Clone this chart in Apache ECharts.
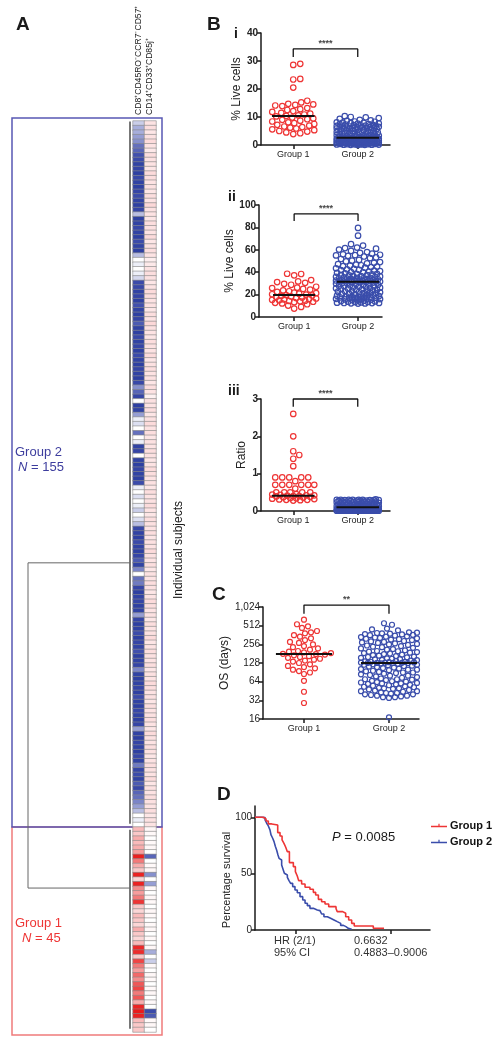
<!DOCTYPE html>
<html><head><meta charset="utf-8">
<script src="https://cdn.jsdelivr.net/npm/echarts@6/dist/echarts.min.js"></script>
<style>html,body{margin:0;padding:0;background:#fff}#c{width:499px;height:1050px}</style>
</head><body><div id="c"></div>
<script>
// ---------------- DATA ----------------
const groupNames = ['Group 1', 'Group 2'];
const heatColumns = ['CD8\u207ACD45RO\u207BCCR7\u207BCD57\u207A', 'CD14\u207ACD33\u207ACD85j\u207A'];

// heat map, column 1 (Group 2 subjects first, then Group 1)
const heatG2Col1 = [
-0.15,-0.25,-0.25,-0.3,-0.35,-0.5,-0.55,-0.65,-0.7,-0.85,
-0.8,-0.9,-0.75,-0.85,-0.9,-0.8,-0.7,-0.85,-0.9,-0.8,
-0.2,-0.9,-0.85,-0.75,-0.85,-0.9,-0.7,-0.85,-0.9,-0.2,
0,-0.05,0,-0.05,-0.12,-0.7,-0.75,-0.85,-0.8,-0.9,
-0.65,-0.85,-0.9,-0.8,-0.6,-0.85,-0.9,-0.75,-0.85,-0.8,
-0.9,-0.7,-0.85,-0.9,-0.8,-0.85,-0.9,-0.75,-0.35,-0.55,
-0.8,0,-0.9,-0.85,-0.3,-0.05,-0.1,0,-0.5,0,
-0.05,-0.85,-0.8,0,-0.85,-0.9,-0.8,-0.85,-0.9,-0.7,
-0.05,0,-0.1,0,-0.05,-0.15,0,-0.1,-0.2,-0.75,
-0.85,-0.9,-0.7,-0.85,-0.9,-0.8,-0.6,-0.85,-0.4,0,
-0.5,-0.45,-0.8,-0.9,-0.85,-0.8,-0.9,-0.85,-0.3,-0.8,
-0.9,-0.85,-0.7,-0.9,-0.8,-0.85,-0.65,-0.9,-0.85,-0.8,
-0.4,-0.85,-0.9,-0.85,-0.8,-0.9,-0.7,-0.85,-0.9,-0.75,
-0.85,-0.9,-0.8,-0.3,-0.85,-0.9,-0.8,-0.85,-0.9,-0.75,
-0.85,-0.45,-0.8,-0.7,-0.85,-0.6,-0.75,-0.55,-0.5,-0.4,
-0.3,-0.2,0,-0.05,0];
const heatG1Col1 = [
0.25,0.2,0.3,0.25,0.3,0.35,0.9,0.45,0.3,0.2,
0.85,0.15,0.85,0.4,0.35,0.45,0.65,0.2,0.15,0.25,
0.2,0.15,0.3,0.2,0.15,0.25,0.75,0.7,0.2,0.6,
0.45,0.35,0.5,0.4,0.55,0.6,0.45,0.55,0.3,0.8,
0.95,0.85,0.25,0.2,0.2];
const heatG2Col2 = [
0.10,0.12,0.09,0.11,0.13,0.10,0.08,0.12,0.11,0.10,
0.09,0.13,0.12,0.10,0.11,0.09,0.12,0.10,0.14,0.11,
0.10,0.09,0.12,0.11,0.10,0.13,0.09,0.11,0.12,0.10,
0.06,0.08,0.10,0.12,0.11,0.09,0.10,0.13,0.12,0.10,
0.11,0.09,0.12,0.10,0.14,0.11,0.10,0.09,0.12,0.11,
0.10,0.13,0.09,0.11,0.12,0.10,0.11,0.09,0.12,0.10,
0.05,0.11,0.10,0.12,0.09,0.11,0.13,0.10,0.12,0.09,
0.11,0.10,0.12,0.11,0.09,0.10,0.13,0.12,0.10,0.11,
0.09,0.12,0.10,0.11,0.13,0.10,0.09,0.12,0.11,0.10,
0.12,0.09,0.11,0.10,0.13,0.11,0.10,0.12,0.09,0.11,
0.10,0.12,0.11,0.09,0.10,0.13,0.12,0.10,0.11,0.09,
0.12,0.10,0.11,0.13,0.09,0.10,0.12,0.11,0.10,0.12,
0.09,0.11,0.10,0.13,0.12,0.10,0.11,0.09,0.12,0.10,
0.11,0.12,0.10,0.09,0.13,0.11,0.10,0.12,0.11,0.09,
0.10,0.12,0.11,0.10,0.13,0.09,0.11,0.10,0.12,0.11,
0.10,0.12,0.09,0.11,0.10];
const heatG1Col2 = [
0.03,0.02,0,0.02,0.03,0,-0.55,0,0.02,0.03,
-0.35,0,-0.3,0.02,0,0.03,0.02,0,0.03,0.02,
0,0.02,0.03,0,0.02,0,0.03,-0.25,0,-0.15,
0.02,0,0.03,0.02,0,0.02,0.03,0,0.02,0,
-0.7,-0.6,0.02,0.03,0];

// dendrogram (rows in subject index units)
const clusterSpans = [[0.1, 154.3], [155.6, 199.3]];
const clusterJoinRows = [97, 168.4];
const mergeHeight = 1;

// B i : % live cells
const biG1 = [29.0,28.6,23.6,23.4,20.5,15.8,15.2,14.7,14.5,14.3,14.1,13.9,13.2,12.8,12.5,12.1,11.8,11.5,11.2,10.9,10.6,10.4,10.2,9.8,9.5,9.2,9.0,8.7,8.4,8.1,7.8,7.5,7.2,6.9,6.6,6.4,6.2,5.9,5.6,5.3,5.0,4.8,4.5,4.2,3.9];
const biG2 = [10.3,10.0,9.9,9.6,9.3,9.0,8.8,
8.6,8.4,8.3,8.1,8.0,7.9,7.8,7.7,7.6,7.5,7.4,7.3,7.2,7.1,7.0,6.9,6.8,6.8,6.7,6.6,6.5,6.5,6.4,6.3,6.3,6.2,6.1,6.1,6.0,6.0,
5.9,5.8,5.7,5.6,5.5,5.4,5.3,5.2,5.1,5.0,4.9,4.8,4.7,4.6,4.5,4.4,4.3,4.2,4.1,4.0,3.9,3.8,3.7,3.6,3.5,3.4,3.3,3.25,3.2,3.1,3.05,3.0,2.95,2.9,2.85,2.8,2.75,2.7,2.65,2.6,
2.55,2.5,2.5,2.45,2.4,2.4,2.35,2.3,2.3,2.25,2.2,2.2,2.15,2.1,2.1,2.05,2.0,2.0,1.95,1.9,
1.9,1.85,1.8,1.8,1.75,1.7,1.7,1.65,1.6,1.6,1.55,1.5,1.5,1.45,1.4,1.4,1.35,1.3,1.3,1.25,
1.2,1.2,1.15,1.1,1.1,1.05,1.0,1.0,0.95,0.9,0.9,0.85,0.8,0.8,0.75,0.7,0.7,0.65,0.6,0.6,
0.55,0.5,0.5,0.45,0.4,0.4,0.35,0.3,0.3,0.25,0.2,0.2,0.15,0.1,0.1,0.05,0.05,0.0];
const biCenters = [10.4, 2.6];

// B ii : % live cells
const biiG1 = [38.6,38.4,37.2,33.0,31.8,31.2,30.5,29.6,28.8,27.0,26.2,25.8,25.1,24.4,23.7,23.0,22.4,21.8,21.3,20.8,20.3,19.9,19.6,19.2,18.8,18.3,17.8,17.3,16.9,16.5,16.1,15.7,15.3,14.9,14.6,14.3,14.0,13.6,13.2,12.7,12.1,11.4,10.2,9.0,7.5];
const biiG2 = [79.5,72.6,65.0,63.8,62.0,61.5,61.0,60.2,59.0,58.0,
57.2,56.5,56.0,55.6,55.2,55.0,54.6,54.0,
53.2,52.5,51.8,51.0,50.3,49.6,49.0,48.4,47.8,47.2,46.7,46.2,45.8,45.4,45.0,44.6,
44.0,43.5,43.0,42.6,42.2,41.8,41.4,41.0,40.6,40.2,39.8,39.4,39.0,38.6,38.3,38.0,37.7,37.4,37.1,36.8,
36.5,36.2,35.9,35.6,35.3,35.0,34.8,34.6,34.4,34.2,34.0,33.8,33.6,33.4,33.2,33.0,32.8,32.6,32.4,32.3,32.2,32.1,32.05,32.0,
31.8,31.6,31.4,31.2,31.0,30.7,30.4,30.1,29.8,29.5,29.2,28.9,28.6,28.3,28.0,27.7,27.4,27.1,26.8,26.5,
26.2,25.9,25.6,25.3,25.0,24.7,24.4,24.1,23.8,23.5,23.2,22.9,22.6,22.3,22.0,21.7,21.4,21.1,20.8,20.5,
20.2,19.9,19.6,19.3,19.0,18.7,18.4,18.1,17.8,17.5,17.2,16.9,16.6,16.3,16.0,15.7,15.4,15.1,14.8,14.5,
14.2,13.9,13.6,13.3,13.0,12.8,12.6,12.4,12.2,12.0,18.0,17.6,17.0,16.2,13.4,12.5,12.1];
const biiCenters = [19.6, 31.5];

// B iii : ratio
const biiiG1 = [2.6,2.0,1.6,1.5,1.4,1.2,0.9,0.9,0.9,0.9,0.9,0.8,0.7,0.7,0.7,0.7,0.7,0.7,0.6,0.5,0.5,0.5,0.5,0.5,
0.45,0.44,0.43,0.42,0.42,0.41,0.40,0.40,0.39,0.38,0.37,0.36,0.35,0.34,0.33,0.32,0.31,0.30,0.30,0.29,0.28];
const biiiG2 = [0.31,0.30,0.30,0.30,0.30,0.30,0.30,0.29,0.29,0.29,
0.29,0.28,0.28,0.28,0.27,0.27,0.26,0.26,0.25,0.25,
0.25,0.24,0.24,0.23,0.23,0.22,0.22,0.22,0.21,0.21,
0.20,0.20,0.20,0.19,0.19,0.18,0.18,0.18,0.17,0.17,
0.16,0.16,0.15,0.15,0.15,0.14,0.14,0.13,0.13,0.13,
0.12,0.12,0.12,0.11,0.11,0.11,0.10,0.10,0.10,0.10,
0.10,0.09,0.09,0.09,0.09,0.09,0.08,0.08,0.08,0.08,
0.08,0.08,0.07,0.07,0.07,0.07,0.07,0.07,0.07,0.06,
0.06,0.06,0.06,0.06,0.06,0.06,0.06,0.05,0.05,0.05,
0.05,0.05,0.05,0.05,0.05,0.05,0.04,0.04,0.04,0.04,
0.04,0.04,0.04,0.04,0.04,0.04,0.04,0.03,0.03,0.03,
0.03,0.03,0.03,0.03,0.03,0.03,0.03,0.03,0.03,0.02,
0.02,0.02,0.02,0.02,0.02,0.02,0.02,0.02,0.02,0.02,
0.02,0.02,0.01,0.01,0.01,0.01,0.01,0.01,0.01,0.01,
0.01,0.01,0.01,0.01,0.01,0.01,0.01,0.01,0.01,0.01,
0.01,0.01,0.01,0.01,0.01];
const biiiCenters = [0.41, 0.1];

// C : OS (days)
const cG1 = [640,540,500,470,420,400,385,360,340,320,300,280,270,255,240,230,220,210,200,195,190,185,180,178,175,170,165,160,155,150,145,140,135,128,122,115,110,105,100,95,90,85,66,44,29];
const cG2 = [560,530,460,445,430,400,395,390,385,380,375,370,365,360,355,
345,340,335,330,325,320,315,310,305,300,290,285,280,275,270,265,260,255,250,245,
240,235,230,225,220,215,210,205,200,198,195,192,188,185,182,178,175,172,168,165,
162,160,158,155,152,150,148,146,144,142,140,138,136,134,133,132,131,130,129.5,129,128.8,128.5,128.2,
128,126,124,122,120,118,116,114,112,110,108,106,104,102,100,98,96,94,92,90,
88,86,84,82,80,78,76,74,72,70,69,68,66,65,64,63,62,61,60,59,
58,57,56,55,54,53,52,51,50,49,48,47,46,45,44,43,42,41,40,39,
38,37,36,35,45,42,40,38,36,17,100,90,80,70,60,50,120];
const cCenters = [179, 128];

// significance brackets (panel order: i, ii, iii, C)
const bracketTop = [34.3, 92, 3.0, 1100];
const bracketDrop = [31.4, 85.7, 2.79, 795];
const bracketText = ['****', '****', '****', '**'];

// D : Kaplan-Meier
const kmDaysG1 = [0,61,81,98,123,167,184,199,213,226,238,253,282,297,311,321,343,368,404,429,446,466,490,515,542,596,605,645,667,689,711,730,870,949];
const kmSurvG1 = [100,98.5,96.7,94.1,93.2,86.4,83.4,79.9,76.9,73.4,69.5,59.8,56.2,51.8,47.9,43.8,40.8,37.9,36.1,33.4,31.1,27.2,25.1,23.1,20.7,18.9,16.3,14.8,11.8,8.9,5.9,3.6,1.5,1.5];
const kmDaysG2 = [0,49,74,86,98,110,118,130,140,150,159,169,177,184,196,208,216,226,238,250,262,277,294,311,331,351,368,385,404,429,458,478,490,507,532,556,581,605,630,650,669,686,711];
const kmSurvG2 = [100,99.7,97.6,94.7,92.3,88.8,84.3,81.4,78.4,74.0,71.0,66.6,63.6,62.1,57.7,53.3,50.3,48.8,46.7,43.8,41.4,38.5,35.5,33.1,29.6,26.6,23.7,21.6,19.2,17.8,17.2,16.3,14.2,11.8,10.4,8.9,7.4,5.9,4.1,3.0,1.5,0.6,0.6];
const kmTicks = [300, 1000];
const hrRows = [['HR (2/1)', '0.6632'], ['95% CI', '0.4883\u20130.9006']];
const pText = '0.0085';

// ---------------- CHART ----------------
const FF = "'Liberation Sans', Arial, Helvetica, sans-serif";
const RED = '#ee3535', BLUE = '#3a4dab', AX = '#1a1a1a';
const chart = echarts.init(document.getElementById('c'));

const col1 = heatG2Col1.concat(heatG1Col1);
const col2 = heatG2Col2.concat(heatG1Col2);
const heatData = [];
for (let i = 0; i < col1.length; i++) { heatData.push([0, i, col1[i]]); heatData.push([1, i, col2[i]]); }
const rowCats = col1.map((_, i) => String(i));

function yAx(gi, o) {
  return Object.assign({
    gridIndex: gi, type: 'value', min: o.min, max: o.max, interval: o.interval,
    axisLine: {show: true, lineStyle: {color: AX, width: 1.5}},
    axisTick: {show: true, length: 4, lineStyle: {color: AX, width: 1.5}},
    axisLabel: {fontSize: 10, color: '#222', margin: 3, fontFamily: FF, fontWeight: o.bold ? 'bold' : 'normal'},
    splitLine: {show: false},
    name: o.name, nameLocation: 'middle', nameGap: o.nameGap,
    nameTextStyle: {fontSize: 12, color: '#222', fontFamily: FF}
  }, o.extra || {});
}
function xGrp(gi, min, max) {
  return {gridIndex: gi, type: 'value', min: min, max: max,
    axisLine: {show: true, onZero: false, lineStyle: {color: AX, width: 1.5}},
    axisTick: {show: true, length: 4, customValues: [1, 2], lineStyle: {color: AX, width: 1.5}},
    axisLabel: {customValues: [1, 2], formatter: v => groupNames[Math.round(v) - 1], fontSize: 9, color: '#222', margin: 5, fontFamily: FF},
    splitLine: {show: false}};
}

const grids = [
  {left: 133, top: 121, width: 23, height: 911},
  {left: 28, top: 121, width: 102, height: 911},
  {left: 261, top: 33, width: 129, height: 112},
  {left: 259, top: 205, width: 123, height: 112},
  {left: 261, top: 399, width: 129, height: 112},
  {left: 263, top: 607, width: 156, height: 112},
  {left: 255, top: 806, width: 175, height: 124}
].map(g => Object.assign({outerBoundsMode: 'none', containLabel: false}, g));

const xAxes = [
  {gridIndex: 0, type: 'category', data: heatColumns, show: false},
  {gridIndex: 1, type: 'value', min: 0, max: 1, inverse: true, show: false},
  xGrp(2, 0.5, 2.5),
  xGrp(3, 0.45, 2.375),
  xGrp(4, 0.5, 2.5),
  xGrp(5, 0.518, 2.353),
  {gridIndex: 6, type: 'value', min: 0, max: 1287,
    axisLine: {show: true, onZero: false, lineStyle: {color: AX, width: 1.5}},
    axisTick: {show: true, length: 4, customValues: kmTicks, lineStyle: {color: AX, width: 1.5}},
    axisLabel: {show: false}, splitLine: {show: false}}
];
const yAxes = [
  {gridIndex: 0, type: 'category', data: rowCats, inverse: true, show: false},
  {gridIndex: 1, type: 'value', min: 0, max: 200, inverse: true, show: false},
  yAx(2, {min: 0, max: 40, interval: 10, name: '% Live cells', nameGap: 17, bold: true}),
  yAx(3, {min: 0, max: 100, interval: 20, name: '% Live cells', nameGap: 20, bold: true}),
  yAx(4, {min: 0, max: 3, interval: 1, name: 'Ratio', nameGap: 13, bold: true}),
  yAx(5, {name: 'OS (days)', nameGap: 27, extra: {type: 'log', logBase: 2, min: 16, max: 1024, interval: undefined,
    axisLabel: {fontSize: 10, color: '#222', margin: 3, fontFamily: FF, formatter: v => Number(v).toLocaleString('en-US')}}}),
  yAx(6, {min: 0, max: 110, extra: {
    axisTick: {show: true, length: 4, customValues: [0, 50, 100], lineStyle: {color: AX, width: 1.5}},
    axisLabel: {customValues: [0, 50, 100], fontSize: 10, color: '#222', margin: 3, fontFamily: FF}}})
];

const series = [];
series.push({type: 'heatmap', xAxisIndex: 0, yAxisIndex: 0, data: heatData, silent: true,
  itemStyle: {borderColor: '#8a8a8a', borderWidth: 0.6}, emphasis: {disabled: true}});
const dendroData = clusterSpans.map(s => ({coords: [[0, s[0]], [0, s[1]]], lineStyle: {width: 1.6, color: '#555'}}));
dendroData.push({coords: [[0, clusterJoinRows[0]], [mergeHeight, clusterJoinRows[0]], [mergeHeight, clusterJoinRows[1]], [0, clusterJoinRows[1]]]});
series.push({type: 'lines', coordinateSystem: 'cartesian2d', xAxisIndex: 1, yAxisIndex: 1, polyline: true, silent: true,
  lineStyle: {color: '#666', width: 1, opacity: 1}, data: dendroData});

const panels = [
  {gi: 2, vals: [biG1, biG2], centers: biCenters, half: 21, size: 5.5},
  {gi: 3, vals: [biiG1, biiG2], centers: biiCenters, half: 22, size: 5.5},
  {gi: 4, vals: [biiiG1, biiiG2], centers: biiiCenters, half: 21, size: 5.5},
  {gi: 5, vals: [cG1, cG2], centers: cCenters, half: 28, size: 5}
];
panels.forEach((p, pi) => {
  [0, 1].forEach(k => {
    series.push({id: 'sw' + pi + '_' + k, name: 'pts' + pi + k, type: 'scatter', xAxisIndex: p.gi, yAxisIndex: p.gi,
      symbol: 'circle', symbolSize: p.size, silent: true, data: [],
      itemStyle: {color: 'rgba(255,255,255,0)', borderColor: k ? BLUE : RED, borderWidth: 1.2, opacity: 1}});
  });
  [0, 1].forEach(k => {
    series.push({type: 'line', xAxisIndex: p.gi, yAxisIndex: p.gi, symbol: 'none', silent: true, z: 5,
      data: [[k + 1 - 0.33, p.centers[k]], [k + 1 + 0.33, p.centers[k]]],
      lineStyle: {color: '#111', width: 2}});
  });
  series.push({type: 'line', xAxisIndex: p.gi, yAxisIndex: p.gi, symbol: 'none', silent: true, clip: false,
    data: [[1, bracketDrop[pi]], [1, bracketTop[pi]], [2, bracketTop[pi]], [2, bracketDrop[pi]]],
    lineStyle: {color: '#111', width: 1.3}});
  series.push({type: 'scatter', xAxisIndex: p.gi, yAxisIndex: p.gi, symbolSize: 0, silent: true, clip: false,
    data: [[1.5, bracketTop[pi]]],
    label: {show: true, position: 'top', distance: 1, formatter: bracketText[pi], fontSize: 9, fontWeight: 'bold', color: '#111', fontFamily: FF}});
});
series.push({name: 'Group 2', type: 'line', step: 'end', xAxisIndex: 6, yAxisIndex: 6, symbol: 'none', silent: true,
  data: kmDaysG2.map((d, i) => [d, kmSurvG2[i]]), lineStyle: {color: BLUE, width: 1.6}, itemStyle: {color: BLUE}});
series.push({name: 'Group 1', type: 'line', step: 'end', xAxisIndex: 6, yAxisIndex: 6, symbol: 'none', silent: true,
  data: kmDaysG1.map((d, i) => [d, kmSurvG1[i]]), lineStyle: {color: RED, width: 1.6}, itemStyle: {color: RED}});

function T(x, y, text, st, rot) {
  return {type: 'text', x: x, y: y, rotation: rot || 0, silent: true,
    style: Object.assign({text: text, fontFamily: FF, fill: '#1a1a1a', fontSize: 12, align: 'left', verticalAlign: 'middle'}, st || {})};
}
const R90 = Math.PI / 2;
const graphic = [
  {type: 'rect', silent: true, shape: {x: 12, y: 827, width: 150, height: 208}, style: {fill: 'none', stroke: '#f07b7b', lineWidth: 1.5}},
  {type: 'rect', silent: true, shape: {x: 12, y: 118, width: 150, height: 709}, style: {fill: 'none', stroke: '#5858b4', lineWidth: 1.5}},
  T(16, 25, 'A', {fontSize: 19, fontWeight: 'bold'}),
  T(139, 115, heatColumns[0], {fontSize: 8.6}, R90),
  T(150, 115, heatColumns[1], {fontSize: 8.6}, R90),
  T(179, 550, 'Individual subjects', {fontSize: 12, align: 'center'}, R90),
  T(15, 452, 'Group 2', {fontSize: 13, fill: '#3d3d9e'}),
  T(18, 467, '{i|N} = 155', {fontSize: 13, fill: '#3d3d9e', rich: {i: {fontStyle: 'italic', fontSize: 13, fill: '#3d3d9e', fontFamily: FF}}}),
  T(15, 923, 'Group 1', {fontSize: 13, fill: RED}),
  T(22, 938, '{i|N} = 45', {fontSize: 13, fill: RED, rich: {i: {fontStyle: 'italic', fontSize: 13, fill: RED, fontFamily: FF}}}),
  T(207, 25, 'B', {fontSize: 19, fontWeight: 'bold'}),
  T(234, 34, 'i', {fontSize: 14, fontWeight: 'bold'}),
  T(228, 197, 'ii', {fontSize: 14, fontWeight: 'bold'}),
  T(228, 391, 'iii', {fontSize: 14, fontWeight: 'bold'}),
  T(212, 595, 'C', {fontSize: 19, fontWeight: 'bold'}),
  T(217, 795, 'D', {fontSize: 19, fontWeight: 'bold'}),
  T(227, 880, 'Percentage survival', {fontSize: 11, align: 'center', fill: '#222'}, R90),
  T(332, 837, '{i|P} = ' + pText, {fontSize: 13, rich: {i: {fontStyle: 'italic', fontSize: 13, fontFamily: FF}}}),
  T(274, 941, hrRows[0][0], {fontSize: 11, fill: '#333'}),
  T(354, 941, hrRows[0][1], {fontSize: 11, fill: '#333'}),
  T(274, 953, hrRows[1][0], {fontSize: 11, fill: '#333'}),
  T(354, 953, hrRows[1][1], {fontSize: 11, fill: '#333'})
];

chart.setOption({
  animation: false, backgroundColor: '#fff', textStyle: {fontFamily: FF},
  grid: grids, xAxis: xAxes, yAxis: yAxes,
  visualMap: {show: false, type: 'continuous', min: -1, max: 1, dimension: 2, seriesIndex: 0,
    inRange: {color: ['#283a9e', '#3d4dab', '#8a93cf', '#ffffff', '#f7a3a3', '#ee2e2e', '#e81818']}},
  legend: {data: ['Group 1', 'Group 2'], left: 431, top: 820, padding: 0, orient: 'vertical', itemWidth: 16, itemHeight: 8, itemGap: 5,
    icon: 'path://M0,3.5L16,3.5L16,5L0,5Z M7.4,1.5L8.6,1.5L8.6,5L7.4,5Z',
    selectedMode: false, textStyle: {fontSize: 11, fontWeight: 'bold', color: '#111', fontFamily: FF, padding: [0, 0, 0, -2]}},
  series: series, graphic: graphic
});

// beeswarm layout computed through the axes' own scales
function swarm(vals, g, gi, half, d) {
  const f = {gridIndex: gi};
  const cx = chart.convertToPixel(f, [g, vals[0]])[0];
  const pts = vals.map(v => ({v: v, py: chart.convertToPixel(f, [g, v])[1]})).sort((a, b) => a.v - b.v);
  const placed = [], out = [];
  pts.forEach(p => {
    let best = 0, bestScore = -1;
    for (let k = 0; k <= 2 * half; k++) {
      const off = (k % 2 ? 1 : -1) * Math.ceil(k / 2);
      let minD = Infinity;
      for (const q of placed) {
        const dd = Math.hypot(q.x - off, q.y - p.py);
        if (dd < minD) minD = dd;
      }
      if (minD >= d) { best = off; bestScore = Infinity; break; }
      if (minD > bestScore) { bestScore = minD; best = off; }
    }
    placed.push({x: best, y: p.py});
    out.push([chart.convertFromPixel(f, [cx + best, p.py])[0], p.v]);
  });
  return out;
}
const upd = [];
panels.forEach((p, pi) => {
  [0, 1].forEach(k => {
    upd.push({id: 'sw' + pi + '_' + k, data: swarm(p.vals[k], k + 1, p.gi, p.half, p.size + 0.8)});
  });
});
chart.setOption({series: upd});
</script></body></html>
